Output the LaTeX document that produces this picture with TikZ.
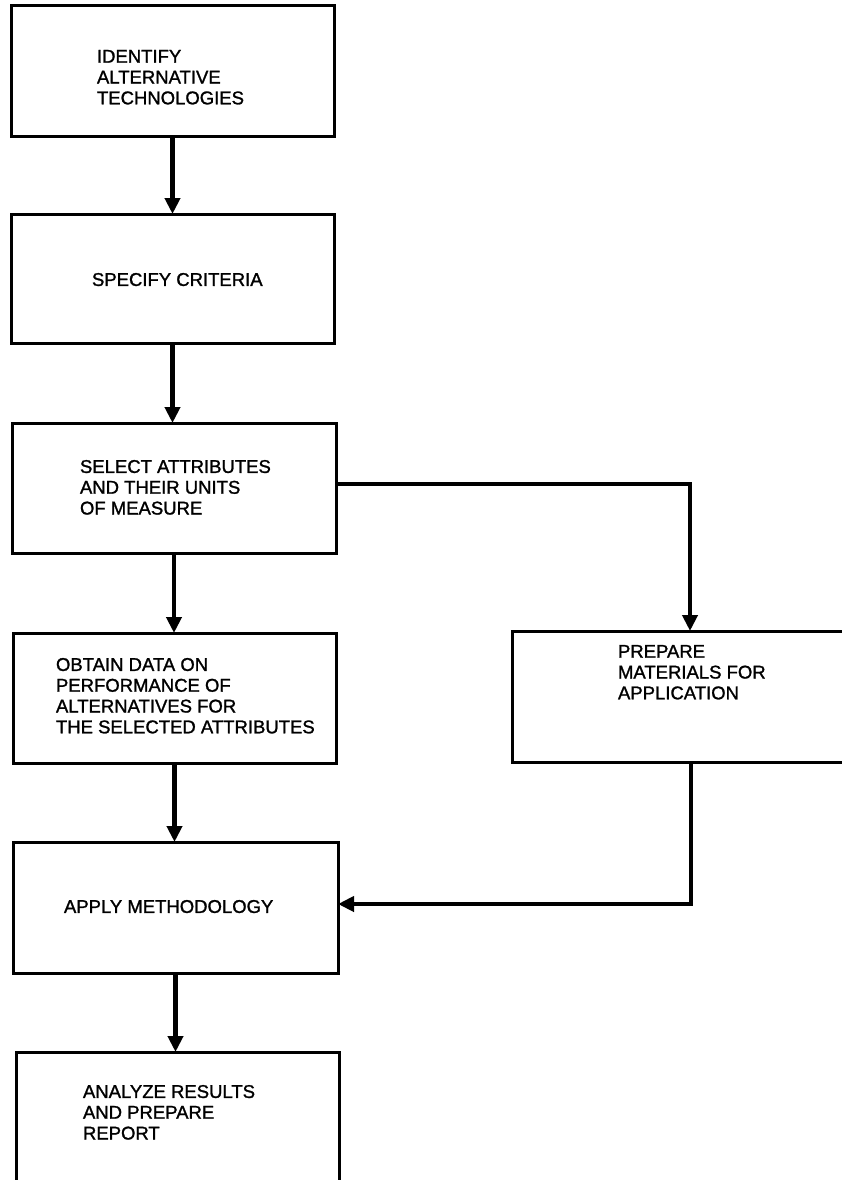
\documentclass[tikz,border=0pt]{standalone}
\usepackage{fontspec}
\setmainfont{Liberation Sans}
\newfontfamily\boxfont{Liberation Sans}[FakeBold=1.3]
\usetikzlibrary{arrows.meta}
\begin{document}
\begin{tikzpicture}[x=1pt,y=-1pt,
  box/.style={draw=black, line width=3pt, rectangle, inner sep=0pt, outer sep=0pt, anchor=north west},
  txt/.style={anchor=north west, inner sep=0pt, outer sep=0pt, align=left, font=\boxfont\fontsize{18.5}{20.8}\selectfont},
  flow/.style={draw=black, line width=4.5pt, -{Triangle[length=16pt,width=15pt]}}]
\useasboundingbox (0,0) rectangle (841,1180);
% boxes
\node[box, minimum width=323pt, minimum height=131pt] (b1) at (11,6) {};
\node[box, minimum width=323pt, minimum height=129pt] (b2) at (11,214) {};
\node[box, minimum width=324pt, minimum height=130pt] (b3) at (12,423) {};
\node[box, minimum width=323pt, minimum height=130pt] (b4) at (13,633) {};
\node[box, minimum width=368pt, minimum height=131pt] (b5) at (512,631) {};
\node[box, minimum width=325pt, minimum height=131pt] (b6) at (13,842) {};
\node[box, minimum width=323pt, minimum height=160pt] (b7) at (16,1052) {};
% texts
\node[txt] (t1) at (97,50) {IDENTIFY\\ALTERNATIVE\\TECHNOLOGIES};
\node[txt] (t2) at (92,273) {SPECIFY CRITERIA};
\node[txt] (t3) at (80,460) {SELECT ATTRIBUTES\\AND THEIR UNITS\\OF MEASURE};
\node[txt] (t4) at (56,658) {OBTAIN DATA ON\\PERFORMANCE OF\\ALTERNATIVES FOR\\THE SELECTED ATTRIBUTES};
\node[txt] (t5) at (618,645) {PREPARE\\MATERIALS FOR\\APPLICATION};
\node[txt] (t6) at (64,900) {APPLY METHODOLOGY};
\node[txt] (t7) at (83,1085) {ANALYZE RESULTS\\AND PREPARE\\REPORT};
% connectors
\draw[flow] (b1.south) -- (b2.north);
\draw[flow] (b2.south) -- (b2.south |- b3.north);
\draw[flow] (b3.south) -- (b3.south |- b4.north);
\draw[flow] (b4.south) -- (b4.south |- b6.north);
\draw[flow] (b6.south) -- (b6.south |- b7.north);
\draw[flow] ([yshift=4pt]b3.east) -| ([xshift=-6pt]b5.north);
\draw[flow] ([xshift=-5pt]b5.south) |- ([yshift=3.5pt]b6.east);
\end{tikzpicture}
\end{document}
